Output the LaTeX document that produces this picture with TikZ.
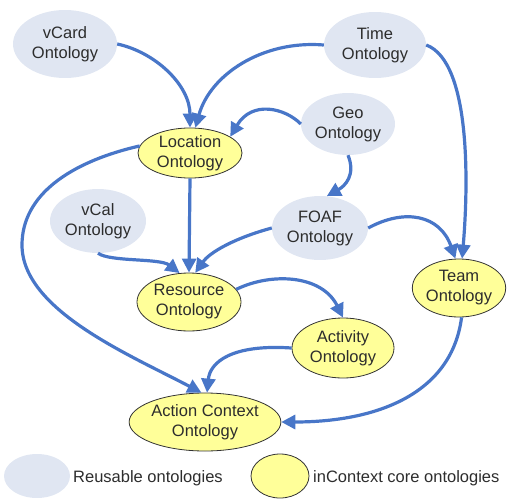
\documentclass[tikz,border=0pt]{standalone}
\usepackage{fontspec}
\setmainfont{Liberation Sans}
\usetikzlibrary{shapes.geometric,arrows.meta}
\definecolor{reuse}{RGB}{224,230,242}
\definecolor{core}{RGB}{255,255,153}
\definecolor{edgeblue}{RGB}{72,118,200}
\definecolor{txt}{RGB}{45,45,45}
\tikzset{
  onto/.style={ellipse, inner sep=0pt, align=center, text=txt,
    font=\fontsize{16.5}{20}\selectfont},
  reusable/.style={onto, fill=reuse, draw=none},
  corenode/.style={onto, fill=core, draw=black!80, line width=0.8pt},
  link/.style={draw=edgeblue, line width=3.2pt,
    -{Triangle[length=14pt,width=14pt]}},
  legtext/.style={anchor=west, text=txt, inner sep=0pt,
    font=\fontsize{16.5}{20}\selectfont}
}
\begin{document}
\begin{tikzpicture}[x=1pt,y=-1pt]
\useasboundingbox (0,0) rectangle (508,500);
% reusable ontologies
\node[reusable, minimum width=104pt, minimum height=68pt] (vcard) at (65,44) {vCard\\Ontology};
\node[reusable, minimum width=102pt, minimum height=66pt] (time) at (375,45) {Time\\Ontology};
\node[reusable, minimum width=94pt, minimum height=62pt] (geo) at (348,124) {Geo\\Ontology};
\node[reusable, minimum width=96pt, minimum height=64pt] (foaf) at (320,228) {FOAF\\Ontology};
\node[reusable, minimum width=96pt, minimum height=64pt] (vcal) at (98,221) {vCal\\Ontology};
% core ontologies
\node[corenode, minimum width=104pt, minimum height=50pt] (loc) at (190,153) {Location\\Ontology};
\node[corenode, minimum width=104pt, minimum height=58pt] (res) at (189,302) {Resource\\Ontology};
\node[corenode, minimum width=102pt, minimum height=60pt] (act) at (343,348) {Activity\\Ontology};
\node[corenode, minimum width=92pt, minimum height=58pt] (team) at (459,288) {Team\\Ontology};
\node[corenode, minimum width=148pt, minimum height=58pt] (ac) at (205,422) {Action Context\\Ontology};
% edges
\draw[link] (vcard.east) .. controls (155,52) and (190,85) .. (loc.north);
\draw[link] (time.west) .. controls (262,40) and (210,75) .. (loc.78);
\draw[link] (geo.west) .. controls (285,108) and (252,100) .. (loc.22);
\draw[link] (geo.south) .. controls (356,175) and (345,186) .. (foaf.78);
\draw[link] (time.east) .. controls (472,62) and (468,190) .. (team.84);
\draw[link] (foaf.east) .. controls (405,208) and (440,215) .. (team.97);
\draw[link] (loc.south) -- (res.north);
\draw[link] (foaf.west) .. controls (235,238) and (210,252) .. (res.78);
\draw[link] (vcal.south) .. controls (110,262) and (160,258) .. (res.108);
\draw[link] (loc.172) .. controls (70,162) and (22,195) .. (22,245)
  .. controls (22,310) and (130,355) .. (ac.97);
\draw[link] (res.15) .. controls (272,272) and (322,275) .. (act.north);
\draw[link] (act.west) .. controls (232,344) and (210,362) .. (ac.86);
\draw[link] (team.-85) .. controls (452,392) and (380,422) .. (ac.east);
% legend
\node[reusable, minimum width=66pt, minimum height=44pt] (legr) at (37,476) {};
\node[legtext] (legrt) at (73,478) {Reusable ontologies};
\node[corenode, minimum width=58pt, minimum height=44pt] (legc) at (280,476) {};
\node[legtext] (legct) at (313,478) {inContext core ontologies};
\end{tikzpicture}
\end{document}
